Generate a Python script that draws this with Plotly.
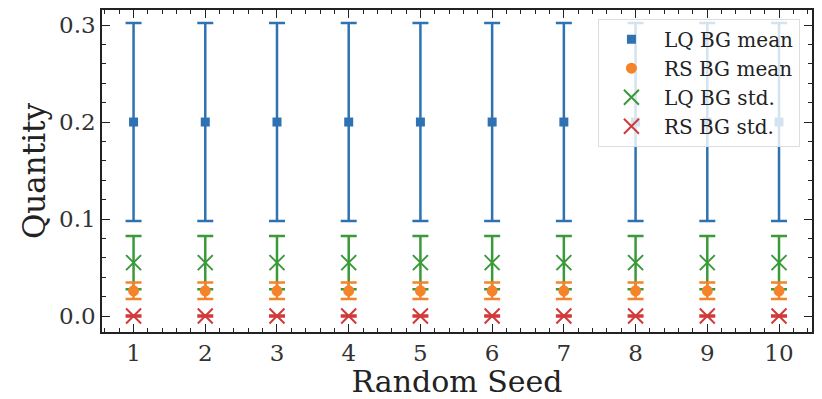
import plotly.graph_objects as go

# Per-seed background statistics
seeds = [1, 2, 3, 4, 5, 6, 7, 8, 9, 10]
lq_mean = [0.200, 0.200, 0.200, 0.200, 0.200, 0.200, 0.200, 0.200, 0.200, 0.200]
lq_mean_err = [0.102, 0.102, 0.102, 0.102, 0.102, 0.102, 0.102, 0.102, 0.102, 0.102]
rs_mean = [0.026, 0.026, 0.026, 0.026, 0.026, 0.026, 0.026, 0.026, 0.026, 0.026]
rs_mean_err = [0.0085, 0.0085, 0.0085, 0.0085, 0.0085, 0.0085, 0.0085, 0.0085, 0.0085, 0.0085]
lq_std = [0.055, 0.055, 0.055, 0.055, 0.055, 0.055, 0.055, 0.055, 0.055, 0.055]
lq_std_err = [0.0275, 0.0275, 0.0275, 0.0275, 0.0275, 0.0275, 0.0275, 0.0275, 0.0275, 0.0275]
rs_std = [0.0, 0.0, 0.0, 0.0, 0.0, 0.0, 0.0, 0.0, 0.0, 0.0]
rs_std_err = [0.0004, 0.0004, 0.0004, 0.0004, 0.0004, 0.0004, 0.0004, 0.0004, 0.0004, 0.0004]

FONT = "DejaVu Serif"
# (name, values, errors, colour, symbol, size, outline width, legend rank)
series = [
    ("LQ BG mean", lq_mean, lq_mean_err, "#2f72b3", "square", 9, 0, 1),
    ("LQ BG std.", lq_std, lq_std_err, "#3a9a3a", "x-thin", 15, 2, 3),
    ("RS BG std.", rs_std, rs_std_err, "#d23a3a", "x-thin", 15, 2, 4),
    ("RS BG mean", rs_mean, rs_mean_err, "#f5832a", "circle", 11, 0, 2),
]

fig = go.Figure()
for i, (name, y, err, color, sym, size, lw, rank) in enumerate(series):
    fig.add_trace(go.Scatter(
        x=seeds, y=y, mode="markers", name=name,
        legendgroup=f"g{i}", legendrank=rank,
        marker=dict(symbol=sym, size=size, color=color,
                    line=dict(color=color, width=lw)),
        error_y=dict(type="data", array=err, visible=True,
                     color=color, thickness=2.5, width=8),
    ))

axis_common = dict(
    showline=True, linecolor="#222", linewidth=1.5, mirror="ticks",
    ticks="inside", ticklen=8, tickwidth=1.3, tickcolor="#222",
    showgrid=False, zeroline=False, automargin=False,
    tickfont=dict(family=FONT, size=23, color="#333"),
)

fig.update_xaxes(
    **axis_common, range=[0.56, 10.46], tickvals=seeds,
    minor=dict(ticks="inside", dtick=0.2, ticklen=4, tickcolor="#222", tickwidth=1),
    title=dict(text="Random Seed", font=dict(family=FONT, size=30, color="#222"), standoff=3),
)
fig.update_yaxes(
    **axis_common, range=[-0.0165, 0.3155], tickvals=[0.0, 0.1, 0.2, 0.3],
    ticktext=["0.0", "0.1", "0.2", "0.3"],
    minor=dict(ticks="inside", dtick=0.02, ticklen=4, tickcolor="#222", tickwidth=1),
    title=dict(text="Quantity", font=dict(family=FONT, size=31, color="#222"), standoff=4),
)

fig.update_layout(
    width=822, height=399,
    margin=dict(l=102, r=10, t=10, b=67),
    plot_bgcolor="white", paper_bgcolor="white",
    showlegend=True,
    legend=dict(
        x=0.983, y=0.973, xanchor="right", yanchor="top",
        bgcolor="rgba(255,255,255,0.8)", bordercolor="#ddd", borderwidth=1,
        font=dict(family=FONT, size=20, color="#222"),
        traceorder="grouped", tracegroupgap=0, itemwidth=55,
    ),
)

fig.write_html("out.html")
